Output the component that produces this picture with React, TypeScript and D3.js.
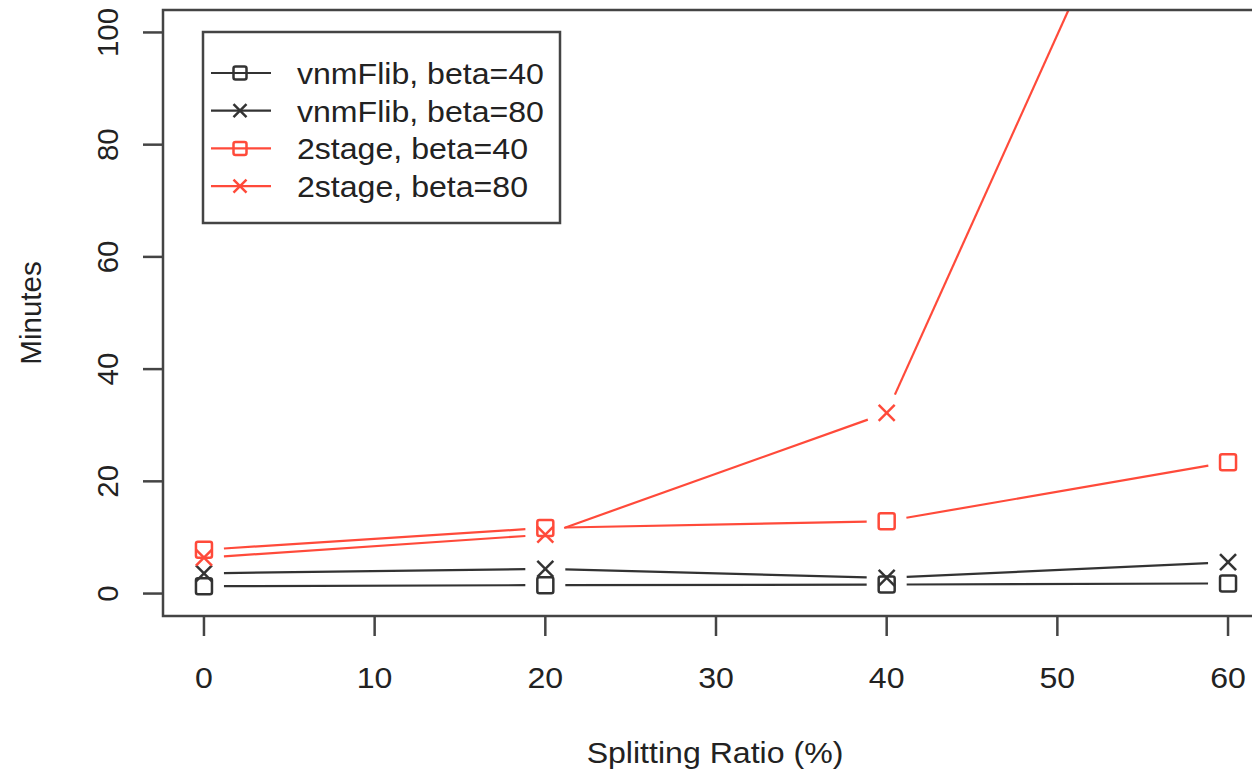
import React from "react";
import * as d3 from "d3";

const xValues = [0, 20, 40, 60];
const vnmFlib40 = [1.3, 1.5, 1.6, 1.8];
const vnmFlib80 = [3.6, 4.4, 2.8, 5.6];
const stage40 = [7.8, 11.7, 12.9, 23.4];
const stage80 = [6.4, 10.5, 32.2, 167];

const xTicks = [0, 10, 20, 30, 40, 50, 60];
const yTicks = [0, 20, 40, 60, 80, 100];

const seriesNames = ["vnmFlib, beta=40", "vnmFlib, beta=80", "2stage, beta=40", "2stage, beta=80"];
const seriesColors = ["#333333", "#333333", "#ff4a3a", "#ff4a3a"];
const seriesShapes = ["square", "cross", "square", "cross"];

const W = 1252;
const H = 773;
const plot = { left: 163, right: 1269, top: 10, bottom: 616 };
const FONT = "'Liberation Sans', Arial, Helvetica, sans-serif";

function Marker({ x, y, shape, color, size = 8 }: any) {
  if (shape === "square") {
    return (
      <rect x={x - size} y={y - size} width={size * 2} height={size * 2} rx={2}
        fill="none" stroke={color} strokeWidth={2.5} />
    );
  }
  return (
    <g stroke={color} strokeWidth={2.5}>
      <line x1={x - size} y1={y - size} x2={x + size} y2={y + size} />
      <line x1={x - size} y1={y + size} x2={x + size} y2={y - size} />
    </g>
  );
}

export default function App() {
  const x = d3.scaleLinear().domain([-2.4, 62.4]).range([plot.left, plot.right]);
  const y = d3.scaleLinear().domain([-4, 104]).range([plot.bottom, plot.top]);
  const allSeries = [vnmFlib40, vnmFlib80, stage40, stage80];
  const gap = 20;
  const lineGen = d3.line<[number, number]>().x((d) => d[0]).y((d) => d[1]);

  return (
    <svg width={W} height={H} style={{ position: "absolute", left: 0, top: 0, background: "#fff" }}
      fontFamily={FONT}>
      <defs>
        <clipPath id="plotclip">
          <rect x={plot.left} y={plot.top} width={plot.right - plot.left} height={plot.bottom - plot.top} />
        </clipPath>
      </defs>
      <rect x={0} y={0} width={W} height={H} fill="#fff" />

      {/* data */}
      <g clipPath="url(#plotclip)">
        {allSeries.map((vals, si) => {
          const pts = vals.map((v, i) => [x(xValues[i]), y(v)] as [number, number]);
          const segs = [];
          for (let i = 0; i < pts.length - 1; i++) {
            const [x1, y1] = pts[i];
            const [x2, y2] = pts[i + 1];
            const len = Math.hypot(x2 - x1, y2 - y1);
            const ux = (x2 - x1) / len, uy = (y2 - y1) / len;
            const a: [number, number] = [x1 + ux * gap, y1 + uy * gap];
            const b: [number, number] = [x2 - ux * gap, y2 - uy * gap];
            segs.push(
              <path key={i} d={lineGen([a, b]) || ""} stroke={seriesColors[si]} strokeWidth={2.2} fill="none" />
            );
          }
          return (
            <g key={si}>
              {segs}
              {pts.map((p, i) => (
                <Marker key={i} x={p[0]} y={p[1]} shape={seriesShapes[si]} color={seriesColors[si]} />
              ))}
            </g>
          );
        })}
      </g>

      {/* box */}
      <rect x={plot.left} y={plot.top} width={plot.right - plot.left} height={plot.bottom - plot.top}
        fill="none" stroke="#444" strokeWidth={2.5} />

      {/* x axis */}
      {xTicks.map((t) => (
        <g key={t}>
          <line x1={x(t)} x2={x(t)} y1={plot.bottom} y2={plot.bottom + 20} stroke="#444" strokeWidth={2.5} />
          <text x={x(t)} y={688} textAnchor="middle" fontSize={30} fill="#222"
            transform={`translate(${x(t)},0) scale(1.07,1) translate(${-x(t)},0)`}>{t}</text>
        </g>
      ))}
      {/* y axis */}
      {yTicks.map((t) => (
        <g key={t}>
          <line x1={plot.left - 20} x2={plot.left} y1={y(t)} y2={y(t)} stroke="#444" strokeWidth={2.5} />
          <text transform={`translate(118,${y(t)}) rotate(-90)`} textAnchor="middle" fontSize={29.5} fill="#222">{t}</text>
        </g>
      ))}

      <text x={715} y={763} textAnchor="middle" fontSize={30} fill="#222"
        transform={`translate(715,0) scale(1.07,1) translate(-715,0)`}>Splitting Ratio (%)</text>
      <text transform={`translate(41,313) rotate(-90)`} textAnchor="middle" fontSize={29.5} fill="#222">Minutes</text>

      {/* legend */}
      <rect x={203} y={32} width={357} height={191} fill="#fff" stroke="#444" strokeWidth={2.5} />
      {seriesNames.map((name, i) => {
        const cy = 73 + i * 37.7;
        return (
          <g key={name}>
            <line x1={211} x2={271} y1={cy} y2={cy} stroke={seriesColors[i]} strokeWidth={2.2} />
            <Marker x={240} y={cy} shape={seriesShapes[i]} color={seriesColors[i]} size={6.5} />
            <text x={297} y={cy + 11} fontSize={30} fill="#222"
              transform={`translate(297,0) scale(1.07,1) translate(-297,0)`}>{name}</text>
          </g>
        );
      })}
    </svg>
  );
}
